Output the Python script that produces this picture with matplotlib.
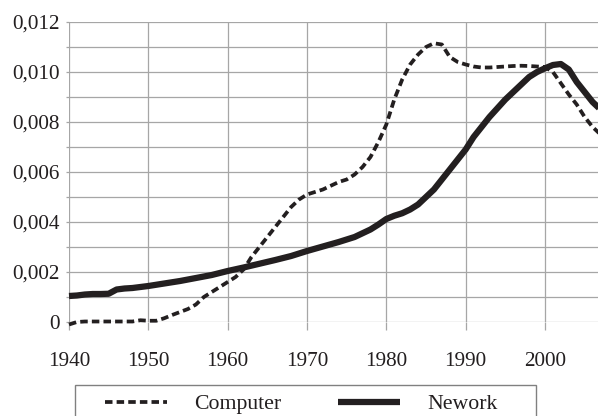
import matplotlib
matplotlib.use("Agg")
import matplotlib.pyplot as plt
from matplotlib.patches import Rectangle

plt.rcParams['font.family'] = ['Liberation Serif', 'DejaVu Serif']

computer_years = [1940, 1941, 1942, 1944, 1946, 1948, 1949, 1950, 1951, 1952, 1953, 1954,
                  1955, 1956, 1957, 1958, 1959, 1960, 1961, 1962, 1963, 1964, 1965, 1966,
                  1967, 1968, 1969, 1970, 1971, 1972, 1973, 1974, 1975, 1976, 1977, 1978,
                  1979, 1980, 1981, 1982, 1983, 1984, 1985, 1986, 1987, 1988, 1989, 1990,
                  1991, 1992, 1993, 1994, 1995, 1996, 1997, 1998, 1999, 2000, 2001, 2002,
                  2003, 2004, 2005, 2006, 2007]
computer_values = [-0.0001, 0.0, 0.00002, 0.00002, 0.00002, 0.00002, 0.00007, 0.00005,
                   0.00005, 0.00015, 0.00028, 0.0004, 0.00052, 0.0007, 0.0010, 0.0012,
                   0.0014, 0.0016, 0.0018, 0.0021, 0.0026, 0.0030, 0.0034, 0.0038, 0.0042,
                   0.0046, 0.0049, 0.0051, 0.0052, 0.0053, 0.00545, 0.0056, 0.0057, 0.0059,
                   0.0062, 0.0066, 0.0072, 0.0079, 0.0089, 0.0097, 0.0103, 0.0107, 0.0110,
                   0.01115, 0.0111, 0.0106, 0.0104, 0.0103, 0.01022, 0.01018, 0.01018,
                   0.0102, 0.01022, 0.01024, 0.01025, 0.01024, 0.01022, 0.0102, 0.0100,
                   0.00955, 0.0091, 0.0087, 0.0082, 0.0078, 0.0075]

network_years = [1940, 1941, 1942, 1943, 1944, 1945, 1946, 1947, 1948, 1949, 1950, 1952,
                 1954, 1956, 1958, 1960, 1962, 1964, 1966, 1968, 1970, 1972, 1974, 1976,
                 1977, 1978, 1979, 1980, 1981, 1982, 1983, 1984, 1985, 1986, 1987, 1988,
                 1989, 1990, 1991, 1992, 1993, 1994, 1995, 1996, 1997, 1998, 1999, 2000,
                 2001, 2002, 2003, 2004, 2005, 2006, 2007]
network_values = [0.00104, 0.00106, 0.0011, 0.00112, 0.00112, 0.00113, 0.0013, 0.00134,
                  0.00136, 0.0014, 0.00144, 0.00154, 0.00164, 0.00176, 0.00188, 0.00204,
                  0.00218, 0.00233, 0.00248, 0.00264, 0.00284, 0.00302, 0.0032, 0.0034,
                  0.00355, 0.0037, 0.0039, 0.00412, 0.00425, 0.00435, 0.0045, 0.0047,
                  0.0050, 0.0053, 0.0057, 0.0061, 0.0065, 0.0069, 0.0074, 0.0078, 0.0082,
                  0.00855, 0.0089, 0.0092, 0.0095, 0.0098, 0.01, 0.01015, 0.01028,
                  0.01032, 0.0101, 0.0096, 0.0092, 0.0088, 0.0085]

x_ticks = [1940, 1950, 1960, 1970, 1980, 1990, 2000]
x_tick_labels = ["1940", "1950", "1960", "1970", "1980", "1990", "2000"]
y_ticks = [0, 0.002, 0.004, 0.006, 0.008, 0.010, 0.012]
y_tick_labels = ["0", "0,002", "0,004", "0,006", "0,008", "0,010", "0,012"]
y_minor = [0.001, 0.003, 0.005, 0.007, 0.009, 0.011]
series_names = ["Computer", "Nework"]

W, H = 598, 416
fig = plt.figure(figsize=(W / 100, H / 100), dpi=100)
ax = fig.add_axes([69 / W, 1 - 322 / H, 1 - 69 / W, 300 / H])

line_color = "#231f20"
grid_color = "#a6a6a6"

ax.plot(computer_years, computer_values, color=line_color, lw=2.7,
        linestyle=(0, (2.0, 1.1)), clip_on=False, zorder=3, label=series_names[0])
ax.plot(network_years, network_values, color=line_color, lw=4.5,
        solid_capstyle='butt', clip_on=False, zorder=4, label=series_names[1])

ax.set_xlim(1940, 1940 + (W - 69) / (476 / 60))
ax.set_ylim(0, 0.012)
ax.set_xticks(x_ticks)
ax.set_xticklabels(x_tick_labels)
ax.set_yticks(y_ticks)
ax.set_yticklabels(y_tick_labels)
ax.set_yticks(y_minor, minor=True)

for s in ax.spines.values():
    s.set_visible(False)
ax.grid(True, which='both', color=grid_color, lw=0.9)
ax.set_axisbelow(True)
ax.tick_params(axis='x', length=6, width=0.9, color=grid_color, pad=15.5,
               labelsize=15.3, labelcolor='#231f20')
ax.tick_params(axis='y', which='both', length=2.5, width=0.9, color=grid_color, pad=4,
               labelsize=15.3, labelcolor='#231f20')

# legend
fig.patches.append(Rectangle((75 / W, -0.1), (536 - 75) / W, 0.1 + (1 - 385 / H),
                             transform=fig.transFigure, fill=False,
                             edgecolor='#808080', lw=1.0))
fig.legend(loc='upper left', bbox_to_anchor=(105 / W, 1 - 394 / H), ncol=2,
           frameon=False, fontsize=15.7, handlelength=2.85, handletextpad=1.24,
           columnspacing=2.6, borderpad=0, borderaxespad=0,
           labelcolor='#231f20')

fig.savefig("out.png", dpi=100)
